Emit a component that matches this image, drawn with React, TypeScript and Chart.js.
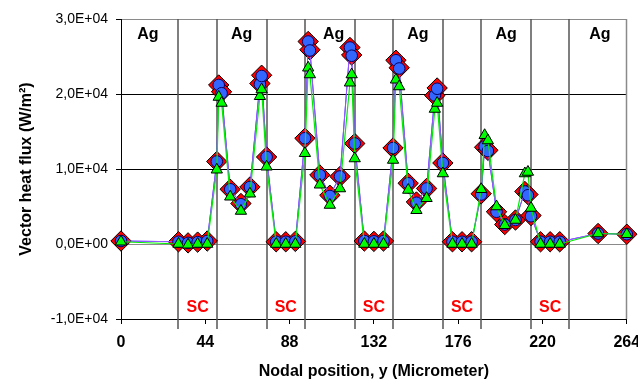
import React, { useEffect, useRef } from "react";
import { Chart, registerables } from "chart.js";

Chart.register(...registerables);

// Nodal positions (micrometer)
const nodalPositions = [
  0, 30, 35, 40, 45,
  50, 51, 52.5, 57, 62.6, 67.3, 72.5, 73.4, 76,
  81, 86, 91,
  96, 97.7, 98.6, 103.8, 109, 114.3, 119.5, 120.4, 122,
  127, 132, 137,
  142, 143.5, 145.2, 149.9, 154.2, 159.5, 163.8, 165, 168,
  173, 178, 183,
  188, 189.8, 191.5, 196, 200.3, 205.9, 210.8, 212.4, 214,
  219, 224, 229,
  249, 264,
];

// Series 1 (red diamonds)
const fluxDiamond = [
  400, 300, 150, 250, 400,
  11000, 21200, 20300, 7300, 5400, 7600, 21400, 22500, 11600,
  300, 300, 350,
  14100, 27000, 25900, 9200, 6500, 9000, 26200, 25200, 13400,
  400, 350, 400,
  12800, 24500, 23500, 8100, 5600, 7400, 19800, 20800, 10800,
  300, 300, 300,
  6700, 12900, 12500, 4300, 2600, 3200, 7000, 6600, 3800,
  300, 300, 300,
  1400, 1300,
];

// Series 2 (blue circles)
const fluxCircle = [
  400, 300, 150, 250, 400,
  11000, 21200, 20100, 7300, 5300, 7600, 21300, 22400, 11600,
  300, 300, 350,
  14100, 27000, 25800, 9200, 6400, 9000, 26200, 25100, 13400,
  400, 350, 400,
  12800, 24500, 23400, 8100, 5500, 7400, 19800, 20700, 10800,
  300, 300, 300,
  6600, 13000, 12400, 4300, 2600, 3200, 7000, 6500, 3700,
  300, 300, 300,
  1400, 1300,
];

// Series 3 (green triangles)
const fluxTriangle = [
  300, 0, -100, 0, 0,
  9900, 19600, 18800, 6300, 4400, 6700, 19700, 20600, 10300,
  0, 0, 0,
  12100, 23500, 22600, 7900, 5200, 7400, 21500, 22600, 11400,
  0, 0, 0,
  11200, 21900, 21000, 7200, 4500, 6100, 18000, 18800, 9400,
  0, 0, 0,
  7300, 14500, 13800, 5000, 2500, 3200, 9400, 9600, 4800,
  0, 0, 0,
  1400, 1300,
];

// Layer boundaries (micrometer)
const layerBoundaries = [30, 50, 76, 96, 122, 142, 168, 188, 214, 234];
const agLabelPositions = [14, 63, 111, 155, 201, 250];
const scLabelPositions = [40, 86, 132, 178, 224];

const xTickStep = 44;
const yTickStep = 10000;

const FONT = "'Liberation Sans', Arial, sans-serif";

function fmtSci(v: number): string {
  if (v === 0) return "0,0E+00";
  const sign = v < 0 ? "-" : "";
  const a = Math.abs(v);
  const e = Math.floor(Math.log10(a) + 1e-9);
  const m = a / Math.pow(10, e);
  return sign + m.toFixed(1).replace(".", ",") + "E+" + String(e).padStart(2, "0");
}

const layersPlugin = {
  id: "layers",
  beforeDatasetsDraw(chart: any) {
    const { ctx, chartArea, scales } = chart;
    const xs = scales.x;
    const ys = scales.y;
    ctx.save();
    ctx.strokeStyle = "#8a8a8a";
    ctx.lineWidth = 1.5;
    const xr = Math.round(xs.getPixelForValue(264)) - 0.5;
    ctx.beginPath();
    ctx.moveTo(xr, chartArea.top);
    ctx.lineTo(xr, chartArea.bottom);
    ctx.stroke();
    ctx.strokeStyle = "#555555";
    ctx.lineWidth = 1.5;
    for (const b of layerBoundaries) {
      const px = Math.round(xs.getPixelForValue(b));
      ctx.beginPath();
      ctx.moveTo(px, chartArea.top);
      ctx.lineTo(px, chartArea.bottom + 10);
      ctx.stroke();
    }
    ctx.font = "bold 16px " + FONT;
    ctx.textAlign = "center";
    ctx.textBaseline = "middle";
    ctx.fillStyle = "#000000";
    const yAg = ys.getPixelForValue(30000) + 16;
    for (const p of agLabelPositions) {
      ctx.fillText("Ag", xs.getPixelForValue(p), yAg);
    }
    ctx.fillStyle = "#ff0000";
    const ySc = ys.getPixelForValue(-10000) - 11;
    for (const p of scLabelPositions) {
      ctx.fillText("SC", xs.getPixelForValue(p), ySc);
    }
    ctx.restore();
  },
};

export default function App() {
  const ref = useRef<HTMLCanvasElement | null>(null);
  useEffect(() => {
    if (!ref.current) return;
    const mk = (ys: number[]) => nodalPositions.map((x, i) => ({ x, y: ys[i] }));
    const chart = new Chart(ref.current, {
      type: "scatter",
      data: {
        datasets: [
          {
            label: "s1",
            data: mk(fluxDiamond),
            showLine: true,
            clip: false,
            borderColor: "#3333ff",
            borderWidth: 1,
            pointStyle: "rectRot",
            pointRadius: 10.2,
            pointBackgroundColor: "#ff0000",
            pointBorderColor: "#000000",
            pointBorderWidth: 1,
            order: 2,
          },
          {
            label: "s2",
            data: mk(fluxCircle),
            showLine: true,
            clip: false,
            borderColor: "#9955ff",
            borderWidth: 1,
            pointStyle: "circle",
            pointRadius: 5.8,
            pointBackgroundColor: "#3366ff",
            pointBorderColor: "#000066",
            pointBorderWidth: 1,
            order: 1,
          },
          {
            label: "s3",
            data: mk(fluxTriangle),
            showLine: true,
            clip: false,
            borderColor: "#00ee00",
            borderWidth: 1.2,
            pointStyle: "triangle",
            pointRadius: 6.5,
            pointBackgroundColor: "#00ff00",
            pointBorderColor: "#000000",
            pointBorderWidth: 1,
            order: 0,
          },
        ],
      },
      options: {
        responsive: false,
        animation: false,
        events: [],
        layout: { padding: { top: 19, right: 11, left: 0, bottom: 0 } },
        plugins: {
          legend: { display: false },
          tooltip: { enabled: false },
        },
        scales: {
          x: {
            type: "linear",
            min: 0,
            max: 264,
            ticks: {
              stepSize: xTickStep,
              color: "#000",
              padding: 9,
              maxRotation: 0,
              font: { family: FONT, size: 16, weight: "bold" },
            },
            grid: {
              drawOnChartArea: false,
              drawTicks: true,
              tickLength: 5,
              color: "#000",
            },
            border: { color: "#000", width: 1 },
            title: {
              display: true,
              text: "Nodal position, y (Micrometer)",
              color: "#000",
              font: { family: FONT, size: 16, weight: "bold" },
              padding: { top: 0, bottom: 2 },
            },
            afterFit: (s: any) => {
              s.height = 64;
              s.paddingLeft = 0;
              s.paddingRight = 0;
            },
          },
          y: {
            type: "linear",
            min: -10000,
            max: 30000,
            ticks: {
              stepSize: yTickStep,
              color: "#000",
              padding: 8,
              font: { family: FONT, size: 14 },
              callback: (v: any) => fmtSci(Number(v)),
            },
            grid: {
              drawTicks: true,
              tickLength: 5,
              tickColor: "#000",
              color: (c: any) =>
                c.tick && (c.tick.value === 0 || c.tick.value === 30000) ? "#8a8a8a" : "#000000",
            },
            border: { color: "#000", width: 1 },
            title: {
              display: true,
              text: "Vector heat flux (W/m²)",
              color: "#000",
              font: { family: FONT, size: 16, weight: "bold" },
              padding: { top: 17, bottom: 0 },
            },
            afterFit: (s: any) => {
              s.width = 121;
              s.paddingTop = 0;
              s.paddingBottom = 0;
            },
          },
        },
      },
      plugins: [layersPlugin],
    } as any);
    return () => chart.destroy();
  }, []);
  return (
    <div style={{ position: "fixed", left: 0, top: 0, width: 638, height: 383, background: "#fff" }}>
      <canvas ref={ref} width={638} height={383} style={{ display: "block" }} />
    </div>
  );
}
